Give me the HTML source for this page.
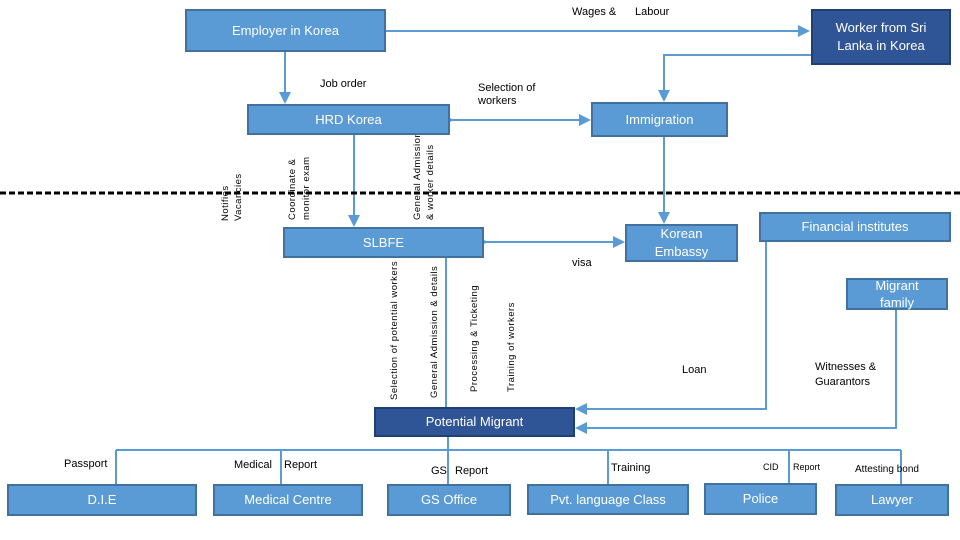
<!DOCTYPE html>
<html><head><meta charset="utf-8"><style>
body{margin:0;width:960px;height:540px;background:#fff;position:relative;overflow:hidden;font-family:"Liberation Sans",sans-serif}
.b{position:absolute;background:#5b9bd5;border:2px solid #41719c;box-sizing:border-box;color:#fff;font-size:13px;display:flex;align-items:center;justify-content:center;text-align:center;line-height:18px}
.d{background:#2f5597;border-color:#203f73}
svg{position:absolute;left:0;top:0}
</style></head><body>
<svg width="960" height="540" font-family="Liberation Sans, sans-serif" font-size="10" fill="#000">
<defs><marker id="a" markerWidth="6" markerHeight="6" refX="5" refY="3" orient="auto"><path d="M0,0 L6,3 L0,6z" fill="#5b9bd5"/></marker></defs>
<g stroke="#5b9bd5" stroke-width="2" fill="none">
<line x1="386" y1="31" x2="808" y2="31" marker-end="url(#a)"/>
<line x1="285" y1="52" x2="285" y2="102" marker-end="url(#a)"/>
<line x1="452" y1="120" x2="589" y2="120" marker-end="url(#a)" marker-start="url(#a)"/>
<polyline points="811,55 664,55 664,100" marker-end="url(#a)"/>
<line x1="664" y1="137" x2="664" y2="222" marker-end="url(#a)"/>
<line x1="354" y1="135" x2="354" y2="225" marker-end="url(#a)"/>
<line x1="486" y1="242" x2="623" y2="242" marker-end="url(#a)" marker-start="url(#a)"/>
<line x1="446" y1="258" x2="446" y2="407"/>
<polyline points="766,242 766,409 577,409" marker-end="url(#a)"/>
<polyline points="896,310 896,428 577,428" marker-end="url(#a)"/>
<line x1="448" y1="437" x2="448" y2="484"/>
<line x1="116" y1="450" x2="901" y2="450"/>
<line x1="116" y1="450" x2="116" y2="484"/>
<line x1="281" y1="450" x2="281" y2="484"/>
<line x1="608" y1="450" x2="608" y2="484"/>
<line x1="789" y1="450" x2="789" y2="484"/>
<line x1="901" y1="450" x2="901" y2="484"/>
</g>
<line x1="0" y1="193" x2="960" y2="193" stroke="#000" stroke-width="3" stroke-dasharray="6,3"/>
<g font-size="11">
<text x="572" y="15">Wages &amp;</text><text x="635" y="15">Labour</text>
<text x="320" y="87">Job order</text>
<text x="478" y="91">Selection  of</text><text x="478" y="104">workers</text>
<text x="572" y="266">visa</text>
<text x="682" y="373">Loan</text>
<text x="815" y="370">Witnesses &amp;</text><text x="815" y="385">Guarantors</text>
<text x="64" y="467">Passport</text>
<text x="234" y="468">Medical</text><text x="284" y="468">Report</text>
<text x="431" y="474">GS</text><text x="455" y="474">Report</text>
<text x="611" y="471">Training</text>
<text x="763" y="470" font-size="9">CID</text><text x="793" y="470" font-size="9">Report</text>
<text x="855" y="472" font-size="10">Attesting bond</text>
</g>
<g font-size="9.5" letter-spacing="0.5">
<text transform="translate(228,221) rotate(-90)">Notifies</text>
<text transform="translate(241,221) rotate(-90)">Vacancies</text>
<text transform="translate(295,220) rotate(-90)">Coordinate &amp;</text>
<text transform="translate(309,220) rotate(-90)">monitor exam</text>
<text transform="translate(420,220) rotate(-90)">General Admission</text>
<text transform="translate(433,220) rotate(-90)">&amp; worker details</text>
<text transform="translate(397,400) rotate(-90)">Selection of potential workers</text>
<text transform="translate(437,398) rotate(-90)">General Admission &amp; details</text>
<text transform="translate(477,392) rotate(-90)">Processing &amp;  Ticketing</text>
<text transform="translate(514,392) rotate(-90)">Training     of     workers</text>
</g>
</svg>
<div class="b" style="left:185px;top:9px;width:201px;height:43px">Employer in Korea</div>
<div class="b d" style="left:811px;top:9px;width:140px;height:56px">Worker from Sri<br>Lanka in Korea</div>
<div class="b" style="left:247px;top:104px;width:203px;height:31px">HRD Korea</div>
<div class="b" style="left:591px;top:102px;width:137px;height:35px">Immigration</div>
<div class="b" style="left:283px;top:227px;width:201px;height:31px">SLBFE</div>
<div class="b" style="left:625px;top:224px;width:113px;height:38px">Korean<br>Embassy</div>
<div class="b" style="left:759px;top:212px;width:192px;height:30px">Financial institutes</div>
<div class="b" style="left:846px;top:278px;width:102px;height:32px;line-height:17px">Migrant<br>family</div>
<div class="b d" style="left:374px;top:407px;width:201px;height:30px">Potential Migrant</div>
<div class="b" style="left:7px;top:484px;width:190px;height:32px">D.I.E</div>
<div class="b" style="left:213px;top:484px;width:150px;height:32px">Medical Centre</div>
<div class="b" style="left:387px;top:484px;width:124px;height:32px">GS Office</div>
<div class="b" style="left:527px;top:484px;width:162px;height:31px">Pvt. language Class</div>
<div class="b" style="left:704px;top:483px;width:113px;height:32px">Police</div>
<div class="b" style="left:835px;top:484px;width:114px;height:32px">Lawyer</div>
</body></html>
